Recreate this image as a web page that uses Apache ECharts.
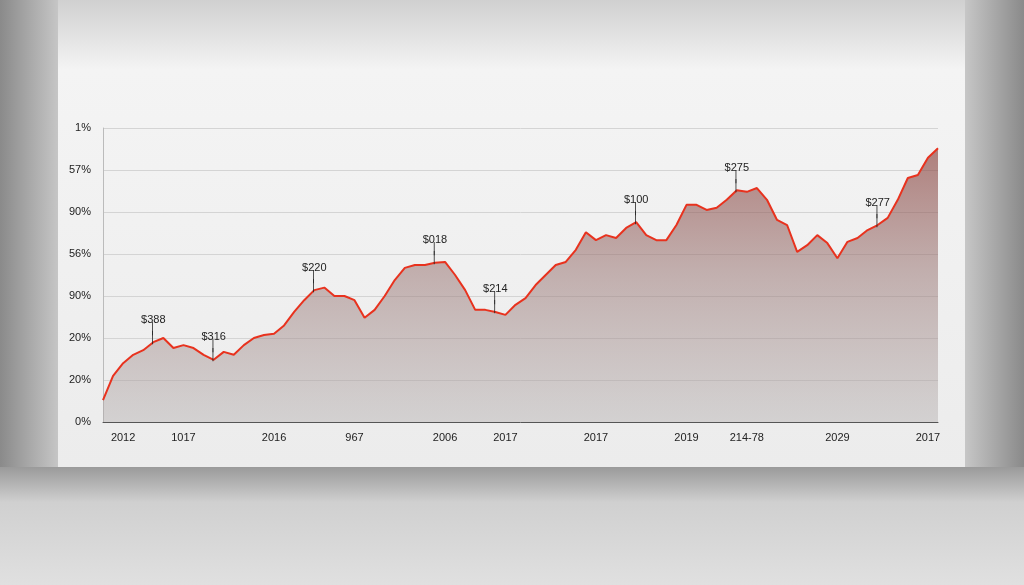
<!DOCTYPE html>
<html><head><meta charset="utf-8">
<script src="https://cdn.jsdelivr.net/npm/echarts@6/dist/echarts.min.js"></script>
<style>html,body{margin:0;padding:0;}#c{width:1024px;height:585px;}</style>
</head><body><div id="c"></div>
<script>
const yTickLabels = ['0%','20%','20%','90%','56%','90%','57%','1%'];
const values = [0.52,1.1,1.4,1.6,1.71,1.9,2.0,1.76,1.83,1.76,1.6,1.48,1.67,1.6,1.83,2.0,2.07,2.1,2.3,2.62,2.9,3.14,3.2,3.0,3.0,2.9,2.48,2.67,3.0,3.38,3.67,3.74,3.74,3.79,3.81,3.5,3.14,2.67,2.67,2.62,2.55,2.79,2.95,3.26,3.5,3.74,3.81,4.1,4.52,4.33,4.45,4.38,4.62,4.76,4.45,4.33,4.33,4.69,5.17,5.17,5.05,5.1,5.29,5.52,5.48,5.57,5.29,4.81,4.69,4.05,4.21,4.45,4.26,3.9,4.29,4.38,4.57,4.69,4.86,5.29,5.81,5.88,6.29,6.52];
const xLabelAt = {2:'2012',8:'1017',17:'2016',25:'967',34:'2006',40:'2017',49:'2017',58:'2019',64:'214-78',73:'2029',82:'2017'};
const annotationAt = {5:'$388',11:'$316',21:'$220',33:'$018',39:'$214',53:'$100',63:'$275',77:'$277'};
const categories = values.map((_, i) => xLabelAt[i] || '');
const seriesData = values.map((v, i) => annotationAt[i] ? {value: v, label: {show: true, formatter: annotationAt[i] + '\n│\n│'}} : v);

const chart = echarts.init(document.getElementById('c'));
chart.setOption({
  animation: false,
  backgroundColor: {type:'linear',x:0,y:0,x2:1,y2:0,colorStops:[{offset:0,color:'#8a8a8a'},{offset:0.06,color:'#c9c9c9'},{offset:0.5,color:'#e6e6e6'},{offset:0.94,color:'#c9c9c9'},{offset:1,color:'#8a8a8a'}]},
  graphic: [
    {type:'rect', z:-10, shape:{x:58,y:0,width:907,height:467}, style:{fill:{type:'linear',x:0,y:0,x2:0,y2:1,colorStops:[{offset:0,color:'#d0d0d0'},{offset:0.15,color:'#f4f4f4'},{offset:1,color:'#ececec'}]}}},
    {type:'rect', z:-10, shape:{x:0,y:467,width:1024,height:118}, style:{fill:{type:'linear',x:0,y:0,x2:0,y2:1,colorStops:[{offset:0,color:'#9a9a9a'},{offset:0.3,color:'#d0d0d0'},{offset:1,color:'#e0e0e0'}]}}}
  ],
  grid: {left:103, right:86, top:128, bottom:163},
  xAxis: {type:'category', data:categories, boundaryGap:false,
    axisLine:{lineStyle:{color:'#555'}}, axisTick:{show:false},
    axisLabel:{interval:0, color:'#222', fontSize:11, fontFamily:'Liberation Sans', margin:10},
    splitLine:{show:false}},
  yAxis: {type:'value', min:0, max:7, interval:1,
    axisLabel:{formatter:(v)=>yTickLabels[Math.round(v)], color:'#222', fontSize:11, fontFamily:'Liberation Sans', margin:12},
    axisLine:{show:true, lineStyle:{color:'#bbb'}},
    splitLine:{lineStyle:{color:'#d4d4d4'}}},
  series: [{
    type:'line', data:seriesData, symbol:'circle', symbolSize:0, showSymbol:true, smooth:false,
    itemStyle:{color:'#e8321e'},
    lineStyle:{color:'#e8321e', width:2},
    label:{show:false, position:'top', distance:0, color:'#222', fontSize:11, fontFamily:'Liberation Sans', lineHeight:9},
    areaStyle:{color:{type:'linear',x:0,y:0,x2:0,y2:1,colorStops:[{offset:0,color:'rgba(135,60,55,0.9)'},{offset:0.45,color:'rgba(155,120,118,0.78)'},{offset:1,color:'rgba(175,170,170,0.6)'}]}}
  }]
});
</script></body></html>
